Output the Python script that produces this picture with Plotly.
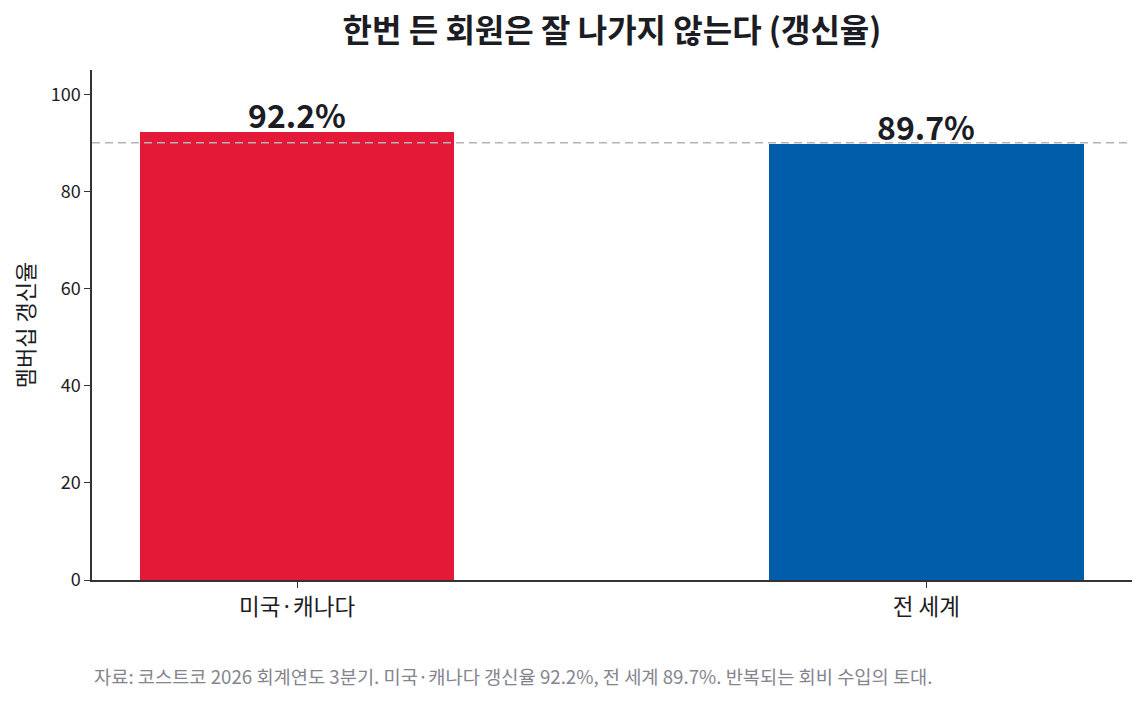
import plotly.graph_objects as go

# 코스트코 멤버십 갱신율 (2026 회계연도 3분기)
regions = ["미국·캐나다", "전 세계"]
renewal_rates = [92.2, 89.7]
bar_colors = ["#E31937", "#005DAA"]
reference_line = 90

font_family = "Noto Sans CJK KR"

fig = go.Figure()

fig.add_trace(go.Bar(
    x=regions,
    y=renewal_rates,
    marker=dict(color=bar_colors, line=dict(width=0)),
    width=0.5,
    showlegend=False,
    hovertemplate="%{x}: %{y}%<extra></extra>",
))

fig.add_hline(y=reference_line, line=dict(color="#b4b4bc", width=1.5, dash="8px,5px"))

# 막대 위 값 표시
for region, rate in zip(regions, renewal_rates):
    fig.add_annotation(
        x=region, y=rate, text=f"<b>{rate}%</b>",
        yanchor="bottom", yshift=-7, showarrow=False,
        font=dict(family=font_family, size=32, color="#1c1c24"),
    )

fig.update_layout(
    width=1145, height=702,
    paper_bgcolor="white", plot_bgcolor="white",
    margin=dict(l=84, r=21, t=62, b=130),
    font=dict(family=font_family, color="#1c1c24"),
    title=dict(
        text="<b>한번 든 회원은 잘 나가지 않는다 (갱신율)</b>",
        x=0.5275, xanchor="center", y=0.967, yanchor="middle",
        font=dict(size=32, color="#1c1c24"),
    ),
    bargap=0,
)

fig.update_xaxes(
    range=[-0.326, 1.327],
    showline=True, linecolor="#333333", linewidth=1.5,
    ticks="outside", ticklen=6, tickcolor="#333333",
    tickfont=dict(size=22.5, color="#1c1c24"),
    showgrid=False,
)

fig.update_yaxes(
    range=[0, 105],
    tickvals=[0, 20, 40, 60, 80, 100],
    showline=True, linecolor="#333333", linewidth=1.5,
    ticks="outside", ticklen=6, tickcolor="#333333",
    tickfont=dict(size=18, color="#1c1c24"),
    showgrid=False, zeroline=False,
    title=dict(text="멤버십 갱신율", font=dict(size=22, color="#1c1c24"), standoff=14),
)

fig.add_annotation(
    text="자료: 코스트코 2026 회계연도 3분기. 미국·캐나다 갱신율 92.2%, 전 세계 89.7%. 반복되는 회비 수입의 토대.",
    xref="paper", yref="paper", x=0, y=-0.188, xanchor="left", yanchor="middle",
    showarrow=False,
    font=dict(size=18.7, color="#85858f"),
)

fig.write_html("out.html")
